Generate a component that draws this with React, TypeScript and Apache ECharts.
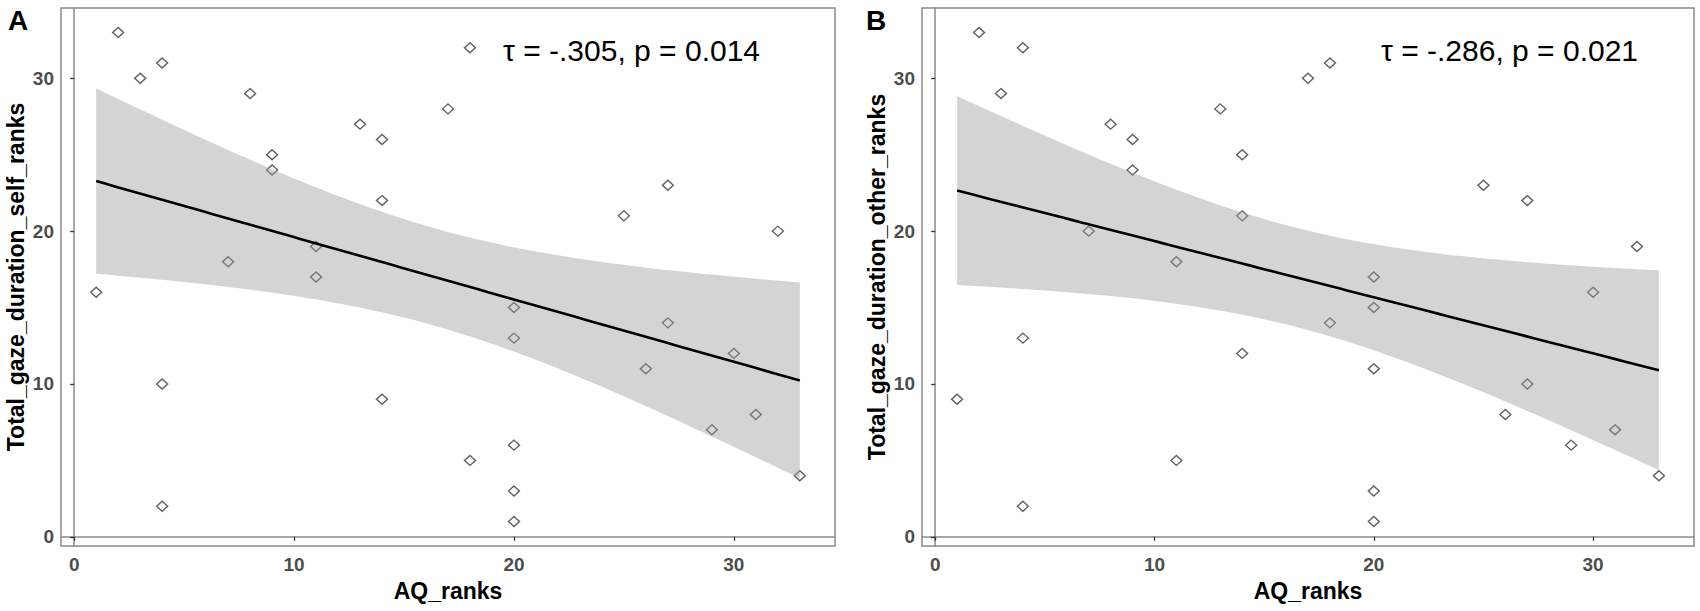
import React, { useEffect, useRef } from "react";
import * as echarts from "echarts";

// ---- data ----
const aqRanks = [1, 2, 3, 4, 4, 4, 7, 8, 9, 9, 11, 11, 13, 14, 14, 14, 17, 18, 18, 20, 20, 20, 20, 20, 25, 26, 27, 27, 29, 30, 31, 32, 33];
const selfRanks = [16, 33, 30, 31, 10, 2, 18, 29, 25, 24, 19, 17, 27, 26, 22, 9, 28, 32, 5, 15, 13, 6, 3, 1, 21, 11, 23, 14, 7, 12, 8, 20, 4];
const otherRanks = [9, 33, 29, 32, 13, 2, 20, 27, 26, 24, 18, 5, 28, 25, 21, 12, 30, 31, 14, 17, 15, 11, 3, 1, 23, 8, 22, 10, 6, 16, 7, 19, 4];
const tickValues = [0, 10, 20, 30];
const panelLabels = ["A", "B"];
const statTexts = ["τ = -.305, p = 0.014", "τ = -.286, p = 0.021"];
const xTitle = "AQ_ranks";
const yTitles = ["Total_gaze_duration_self_ranks", "Total_gaze_duration_other_ranks"];

// linear fit with 95% confidence band (as geom_smooth(method = "lm"))
const T_975_DF31 = 2.0395;
function fitLm(xs: number[], ys: number[]) {
  const n = xs.length;
  const mx = xs.reduce((s, v) => s + v, 0) / n;
  const my = ys.reduce((s, v) => s + v, 0) / n;
  let sxx = 0, sxy = 0;
  for (let i = 0; i < n; i++) {
    sxx += (xs[i] - mx) ** 2;
    sxy += (xs[i] - mx) * (ys[i] - my);
  }
  const b = sxy / sxx;
  const a = my - b * mx;
  let ssr = 0;
  for (let i = 0; i < n; i++) ssr += (ys[i] - (a + b * xs[i])) ** 2;
  const s = Math.sqrt(ssr / (n - 2));
  const xmin = Math.min(...xs), xmax = Math.max(...xs);
  const band: number[][] = [];
  const line: number[][] = [];
  const N = 80;
  for (let i = 0; i < N; i++) {
    const x = xmin + ((xmax - xmin) * i) / (N - 1);
    const yh = a + b * x;
    const se = s * Math.sqrt(1 / n + (x - mx) ** 2 / sxx);
    band.push([x, yh - T_975_DF31 * se, yh + T_975_DF31 * se]);
    line.push([x, yh]);
  }
  return { band, line };
}

const FONT = '"Liberation Sans", Arial, sans-serif';

export default function App() {
  const ref = useRef<HTMLDivElement>(null);
  useEffect(() => {
    document.body.style.margin = "0";
    if (!ref.current) return;
    const chart = echarts.init(ref.current, undefined, { renderer: "svg" });
    const fits = [fitLm(aqRanks, selfRanks), fitLm(aqRanks, otherRanks)];
    const yData = [selfRanks, otherRanks];
    const grids = [
      { left: 61, top: 8, width: 774, height: 538 },
      { left: 922, top: 8, width: 772, height: 538 },
    ];
    const diamond = "path://M0,-1 L1,0 L0,1 L-1,0 Z";

    const series: any[] = [];
    [0, 1].forEach((gi) => {
      series.push({
        type: "scatter",
        xAxisIndex: gi,
        yAxisIndex: gi,
        data: aqRanks.map((x, i) => [x, yData[gi][i]]),
        symbol: diamond,
        symbolSize: [11, 10],
        itemStyle: { color: "rgba(0,0,0,0)", borderColor: "#3a3a3a", borderWidth: 1.4 },
        silent: true,
        z: 2,
      });
      const band = fits[gi].band;
      series.push({
        type: "custom",
        xAxisIndex: gi,
        yAxisIndex: gi,
        data: band,
        encode: { x: 0, y: [1, 2] },
        silent: true,
        z: 3,
        renderItem: (params: any, api: any) => {
          if (params.dataIndex !== 0) return null;
          const upper = band.map((p) => api.coord([p[0], p[2]]));
          const lower = band.map((p) => api.coord([p[0], p[1]])).reverse();
          return {
            type: "polygon",
            shape: { points: upper.concat(lower) },
            style: { fill: "rgba(153,153,153,0.42)", stroke: null },
          };
        },
      });
      series.push({
        type: "line",
        xAxisIndex: gi,
        yAxisIndex: gi,
        data: fits[gi].line,
        showSymbol: false,
        symbol: "none",
        lineStyle: { color: "#000", width: 2.6 },
        silent: true,
        z: 4,
      });
    });

    const axisCommon = {
      type: "value",
      min: -0.6,
      max: 34.6,
      splitLine: { show: false },
      axisLine: { show: true, lineStyle: { color: "#8a8a8a", width: 1.5 } },
      axisTick: { show: true, length: 4, lineStyle: { color: "#333", width: 1.3 }, customValues: tickValues },
    };

    chart.setOption({
      animation: false,
      backgroundColor: "#fff",
      grid: grids.map((g) => ({
        ...g,
        show: true,
        borderColor: "#8a8a8a",
        borderWidth: 1.5,
        backgroundColor: "transparent",
        containLabel: false,
        outerBoundsMode: "none",
      })),
      xAxis: [0, 1].map((gi) => ({
        ...axisCommon,
        gridIndex: gi,
        axisLabel: {
          customValues: tickValues,
          fontSize: 19,
          fontWeight: "bold",
          color: "#4D4D4D",
          fontFamily: FONT,
          margin: 9,
        },
        name: xTitle,
        nameLocation: "middle",
        nameGap: 33,
        nameMoveOverlap: false,
        nameTextStyle: { fontSize: 23, fontWeight: "bold", color: "#000", fontFamily: FONT },
      })),
      yAxis: [0, 1].map((gi) => ({
        ...axisCommon,
        gridIndex: gi,
        axisLabel: {
          customValues: tickValues,
          fontSize: 19,
          fontWeight: "bold",
          color: "#4D4D4D",
          fontFamily: FONT,
          margin: 7,
        },
        name: yTitles[gi],
        nameLocation: "middle",
        nameGap: 34,
        nameMoveOverlap: false,
        nameTextStyle: { fontSize: 23, fontWeight: "bold", color: "#000", fontFamily: FONT },
      })),
      graphic: [
        { type: "text", x: 8, y: 20, style: { text: panelLabels[0], font: `bold 28px ${FONT}`, fill: "#000", verticalAlign: "middle" } },
        { type: "text", x: 866, y: 20, style: { text: panelLabels[1], font: `bold 28px ${FONT}`, fill: "#000", verticalAlign: "middle" } },
        { type: "text", x: 503, y: 50, style: { text: statTexts[0], font: `30px ${FONT}`, fill: "#000", verticalAlign: "middle" } },
        { type: "text", x: 1381, y: 50, style: { text: statTexts[1], font: `30px ${FONT}`, fill: "#000", verticalAlign: "middle" } },
      ],
      series,
    });
    return () => chart.dispose();
  }, []);
  return <div ref={ref} style={{ position: "absolute", left: 0, top: 0, width: 1700, height: 611 }} />;
}
